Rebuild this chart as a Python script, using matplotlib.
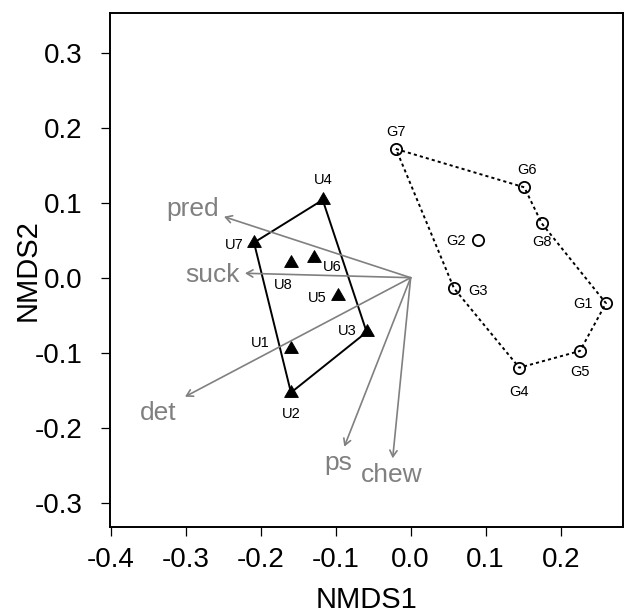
import numpy as np
import matplotlib.pyplot as plt
from matplotlib.path import Path

plt.rcParams['font.family'] = ['Liberation Sans', 'DejaVu Sans']
plt.rcParams['axes.unicode_minus'] = False

# site scores, ungrazed (U) and grazed (G)
u_names = ['U1', 'U2', 'U3', 'U4', 'U5', 'U6', 'U7', 'U8']
u_x = [-0.1596, -0.1596, -0.0587, -0.1173, -0.0965, -0.1285, -0.2089, -0.1596]
u_y = [-0.0955, -0.1532, -0.0725, 0.1037, -0.0241, 0.0268, 0.0468, 0.0192]
g_names = ['G1', 'G2', 'G3', 'G4', 'G5', 'G6', 'G7', 'G8']
g_x = [0.2604, 0.0901, 0.0577, 0.1448, 0.2257, 0.1515, -0.0196, 0.1747]
g_y = [-0.0341, 0.0503, -0.0141, -0.1200, -0.0977, 0.1205, 0.1716, 0.0725]

# hull order
u_hull = ['U4', 'U3', 'U2', 'U7']
g_hull = ['G7', 'G6', 'G8', 'G1', 'G5', 'G4', 'G3']

# fitted vectors (feeding groups)
vec_names = ['pred', 'suck', 'det', 'ps', 'chew']
vec_x = [-0.2489, -0.2209, -0.3009, -0.0885, -0.0240]
vec_y = [0.0813, 0.0059, -0.1587, -0.2253, -0.2408]

x_ticks = [-0.4, -0.3, -0.2, -0.1, 0.0, 0.1, 0.2]
y_ticks = [-0.3, -0.2, -0.1, 0.0, 0.1, 0.2, 0.3]

# label nudges in pixels (right, down) from each point
nudge = {
    'U1': (-31, -7.7), 'U2': (0, 20.2), 'U3': (-19.4, -2.1), 'U4': (0.6, -21.1),
    'U5': (-21, 0.6), 'U6': (18, 8.6), 'U7': (-19.3, 1.2), 'U8': (-7.7, 20.2),
    'G1': (-23.3, 0), 'G2': (-22.3, 0), 'G3': (24.3, 1.7), 'G4': (0, 23),
    'G5': (0, 19.7), 'G6': (2.7, -18.3), 'G7': (0, -18), 'G8': (0, 17.7),
}

grey = '#808080'

fig = plt.figure(figsize=(6.25, 6.15), dpi=100)
ax = fig.add_axes([110 / 625, 1 - 527.3 / 615, 513.3 / 625, 514 / 615])
ax.set_xlim(-0.4009, 0.2835)
ax.set_ylim(-0.3328, 0.3525)

# hulls
u_idx = [u_names.index(n) for n in u_hull] + [u_names.index(u_hull[0])]
g_idx = [g_names.index(n) for n in g_hull] + [g_names.index(g_hull[0])]
ax.plot(np.array(u_x)[u_idx], np.array(u_y)[u_idx], color='black', lw=1.4, zorder=2)
ax.plot(np.array(g_x)[g_idx], np.array(g_y)[g_idx], color='black', lw=1.4,
        linestyle=(0, (1.6, 1.6)), zorder=2)

# points
tri = Path([(0, 1), (-0.866, -0.5), (0.866, -0.5), (0, 1)],
           [Path.MOVETO, Path.LINETO, Path.LINETO, Path.CLOSEPOLY])
ax.plot(u_x, u_y, linestyle='none', marker=tri, ms=11.3, mfc='black', mec='black',
        mew=0.7, zorder=3)
ax.plot(g_x, g_y, linestyle='none', marker='o', ms=8.1, mfc='none', mec='black',
        mew=1.3, zorder=3)

cap = 0.716 * 10.5 * fig.dpi / 72
for names, xs, ys in [(u_names, u_x, u_y), (g_names, g_x, g_y)]:
    for n, x, y in zip(names, xs, ys):
        dx, dy = nudge[n]
        ax.annotate(n, (x, y), xytext=(dx * 0.72, -(dy + cap / 2) * 0.72),
                    textcoords='offset points', ha='center', va='baseline',
                    fontsize=10.5)

# vectors with labels placed beyond the arrow tip
renderer = fig.canvas.get_renderer()
org = ax.transData.transform((0, 0))
h = 0.716 * 19 * fig.dpi / 72
for name, vx, vy in zip(vec_names, vec_x, vec_y):
    ax.annotate('', xy=(vx, vy), xytext=(0, 0),
                arrowprops=dict(arrowstyle='->,head_length=0.45,head_width=0.26',
                                color=grey, lw=1.2, shrinkA=0, shrinkB=0))
    t = ax.text(vx, vy, name, fontsize=19, color=grey, ha='center', va='baseline')
    w = t.get_window_extent(renderer).width
    tip = ax.transData.transform((vx, vy))
    dx, dy = tip - org
    b = dy / dx
    ox = np.sign(dx) * (w / 2 + h / 4)
    oy = 0.75 * h * np.sign(dy)
    if abs(b) > h / w:
        ox = oy / b
    else:
        oy = ox * b
    pos = tip + np.array([ox, oy - h / 2])
    t.set_position(ax.transData.inverted().transform(pos))

# axes
ax.set_xticks(x_ticks)
ax.set_yticks(y_ticks)
ax.set_xticklabels(['%.1f' % v for v in x_ticks])
ax.set_yticklabels(['%.1f' % v for v in y_ticks])
ax.tick_params(axis='both', direction='out', length=6.5, width=0.9, labelsize=20)
ax.tick_params(axis='x', pad=7.5)
ax.tick_params(axis='y', pad=13.5)
for s in ax.spines.values():
    s.set_linewidth(1.4)

ax.set_xlabel('NMDS1', fontsize=21)
ax.set_ylabel('NMDS2', fontsize=21)
ax.xaxis.label.set_va('baseline')
ax.yaxis.label.set_va('center')
ax.xaxis.set_label_coords(0.5, (527.3 - 608) / 514)
ax.yaxis.set_label_coords((27.5 - 110) / 513.3, 0.5)

fig.savefig('out.png', dpi=100)
